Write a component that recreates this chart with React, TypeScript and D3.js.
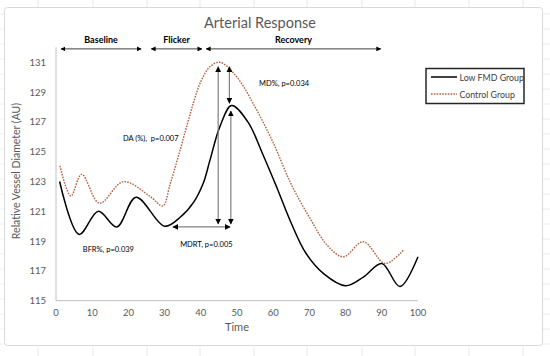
import React from "react";
import * as d3 from "d3";

const lowTime = [1, 6.4, 11.7, 16.8, 22.1, 30, 34.3, 38, 40.7, 42.5, 45.3, 48.5, 53, 57, 61, 65, 69, 74, 80, 85, 90, 95, 100];
const lowValue = [123.0, 119.45, 121.0, 119.95, 121.95, 120.0, 120.6, 121.6, 122.9, 124.4, 126.7, 128.1, 127.0, 124.9, 122.6, 120.2, 118.2, 116.8, 116.0, 116.6, 117.5, 115.95, 117.95];

const ctrlTime = [1.1, 4.1, 7.1, 12, 18.6, 26, 29.5, 31.5, 33.8, 36, 38, 40, 42.5, 45.3, 50, 55, 60, 65, 70, 75, 79.4, 84.9, 90.9, 96];
const ctrlValue = [124.05, 122.03, 123.48, 121.54, 122.99, 122.0, 121.36, 122.8, 124.7, 126.6, 128.3, 129.7, 130.7, 131.0, 130.0, 128.0, 125.6, 122.8, 120.6, 118.7, 117.95, 118.96, 117.5, 118.4];

const xTicks = [0, 10, 20, 30, 40, 50, 60, 70, 80, 90, 100];
const yTicks = [115, 117, 119, 121, 123, 125, 127, 129, 131];

const periods = [
  { label: "Baseline", from: 1.1, to: 23.8 },
  { label: "Flicker", from: 26, to: 40.6 },
  { label: "Recovery", from: 41.2, to: 90 },
];

const vArrows = [
  { t: 44.8, from: 130.7, to: 120.15 },
  { t: 47.9, from: 130.7, to: 128.26 },
  { t: 48.3, from: 127.73, to: 120.15 },
];
const hArrow = { v: 119.95, from: 32.3, to: 48.1 };

const notes = [
  { text: "DA (%),  p=0.007", t: 18.5, v: 125.7 },
  { text: "MD%, p=0.034", t: 56.1, v: 129.4 },
  { text: "BFR%, p=0.039", t: 7.4, v: 118.3 },
  { text: "MDRT, p=0.005", t: 34.3, v: 118.6 },
];

const seriesNames = ["Low FMD Group", "Control Group"];

export default function App() {
  const W = 550, H = 356;
  const x = d3.scaleLinear().domain([0, 100]).range([56, 418]);
  const y = d3.scaleLinear().domain([115, 132]).range([300.7, 47.4]);
  const line = d3
    .line<[number, number]>()
    .x((d) => x(d[0]))
    .y((d) => y(d[1]))
    .curve(d3.curveCatmullRom.alpha(0.5));
  const lowPts = lowTime.map((t, i) => [t, lowValue[i]] as [number, number]);
  const ctrlPts = ctrlTime.map((t, i) => [t, ctrlValue[i]] as [number, number]);
  const font = "Lato, 'Open Sans', sans-serif";
  const gridX = [38, 93, 147, 200, 254, 307, 362, 415, 469, 523];
  const gridY = d3.range(0, 24).map((i) => 14 + i * 15);
  const ctrlColor = "#b4603f";

  return (
    <svg width={W} height={H} style={{ position: "absolute", left: 0, top: 0, fontFamily: font }}>
      <defs>
        <marker id="ah" viewBox="0 0 10 10" refX="9" refY="5" markerWidth="5" markerHeight="5" orient="auto-start-reverse">
          <path d="M0,0 L10,5 L0,10 z" fill="#000" />
        </marker>
      </defs>
      <rect x={0} y={0} width={W} height={H} fill="#fff" />
      {gridX.map((gx) => (
        <g key={gx}>
          <line x1={gx} x2={gx} y1={0} y2={7} stroke="#e8e8e8" />
          <line x1={gx} x2={gx} y1={347} y2={356} stroke="#e8e8e8" />
        </g>
      ))}
      {gridY.map((gy) => (
        <g key={gy}>
          <line x1={543} x2={550} y1={gy} y2={gy} stroke="#ececec" />
          <line x1={0} x2={4} y1={gy} y2={gy} stroke="#f0f0f0" />
        </g>
      ))}
      <rect x={4.5} y={7.5} width={538} height={338} rx={3} fill="#fff" stroke="#d9d9d9" />

      <text x={260} y={28} textAnchor="middle" fontSize={14.5} fill="#595959">Arterial Response</text>

      {/* axes */}
      <line x1={x(0)} x2={x(0)} y1={y(132)} y2={y(115)} stroke="#bfbfbf" />
      <line x1={x(0)} x2={x(100)} y1={y(115)} y2={y(115)} stroke="#bfbfbf" />
      {yTicks.map((v) => (
        <text key={v} x={46} y={y(v) + 3.5} textAnchor="end" fontSize={9.5} fill="#595959">{v}</text>
      ))}
      {xTicks.map((v) => (
        <text key={v} x={x(v)} y={316} textAnchor="middle" fontSize={9.5} fill="#595959">{v}</text>
      ))}
      <text x={237} y={331} textAnchor="middle" fontSize={11} fill="#595959">Time</text>
      <text transform={`translate(20,${171}) rotate(-90)`} textAnchor="middle" fontSize={10.5} fill="#595959">Relative Vessel Diameter (AU)</text>

      {/* series */}
      <path d={line(ctrlPts) || ""} fill="none" stroke={ctrlColor} strokeWidth={1.4} strokeDasharray="1.6 1.2" />
      <path d={line(lowPts) || ""} fill="none" stroke="#000" strokeWidth={1.5} />

      {/* period arrows */}
      {periods.map((p) => (
        <g key={p.label}>
          <line x1={x(p.from) + 1} x2={x(p.to) - 1} y1={y(131.9)} y2={y(131.9)} stroke="#404040" strokeWidth={1}
            markerStart="url(#ah)" markerEnd="url(#ah)" />
          <text x={(x(p.from) + x(p.to)) / 2} y={y(131.9) - 6} textAnchor="middle" fontSize={9} fontWeight="bold" fill="#000">{p.label}</text>
        </g>
      ))}

      {vArrows.map((a, i) => (
        <line key={i} x1={x(a.t)} x2={x(a.t)} y1={y(a.from)} y2={y(a.to)} stroke="#808080" strokeWidth={1.2}
          markerStart="url(#ah)" markerEnd="url(#ah)" />
      ))}
      <line x1={x(hArrow.from)} x2={x(hArrow.to)} y1={y(hArrow.v)} y2={y(hArrow.v)} stroke="#808080" strokeWidth={1.2}
        markerStart="url(#ah)" markerEnd="url(#ah)" />

      {notes.map((n) => (
        <text key={n.text} x={x(n.t)} y={y(n.v)} fontSize={7.5} fill="#000" style={{ whiteSpace: "pre" }}>{n.text}</text>
      ))}

      {/* legend */}
      <rect x={426} y={68.5} width={98} height={35} fill="#fff" stroke="#262626" strokeWidth={1.5} />
      <line x1={431} x2={457} y1={77} y2={77} stroke="#000" strokeWidth={1.5} />
      <line x1={431} x2={457} y1={94} y2={94} stroke={ctrlColor} strokeWidth={1.4} strokeDasharray="1.6 1.2" />
      <text x={459.5} y={80.5} fontSize={8.8} fill="#404040">{seriesNames[0]}</text>
      <text x={459.5} y={97.5} fontSize={8.8} fill="#404040">{seriesNames[1]}</text>
    </svg>
  );
}
